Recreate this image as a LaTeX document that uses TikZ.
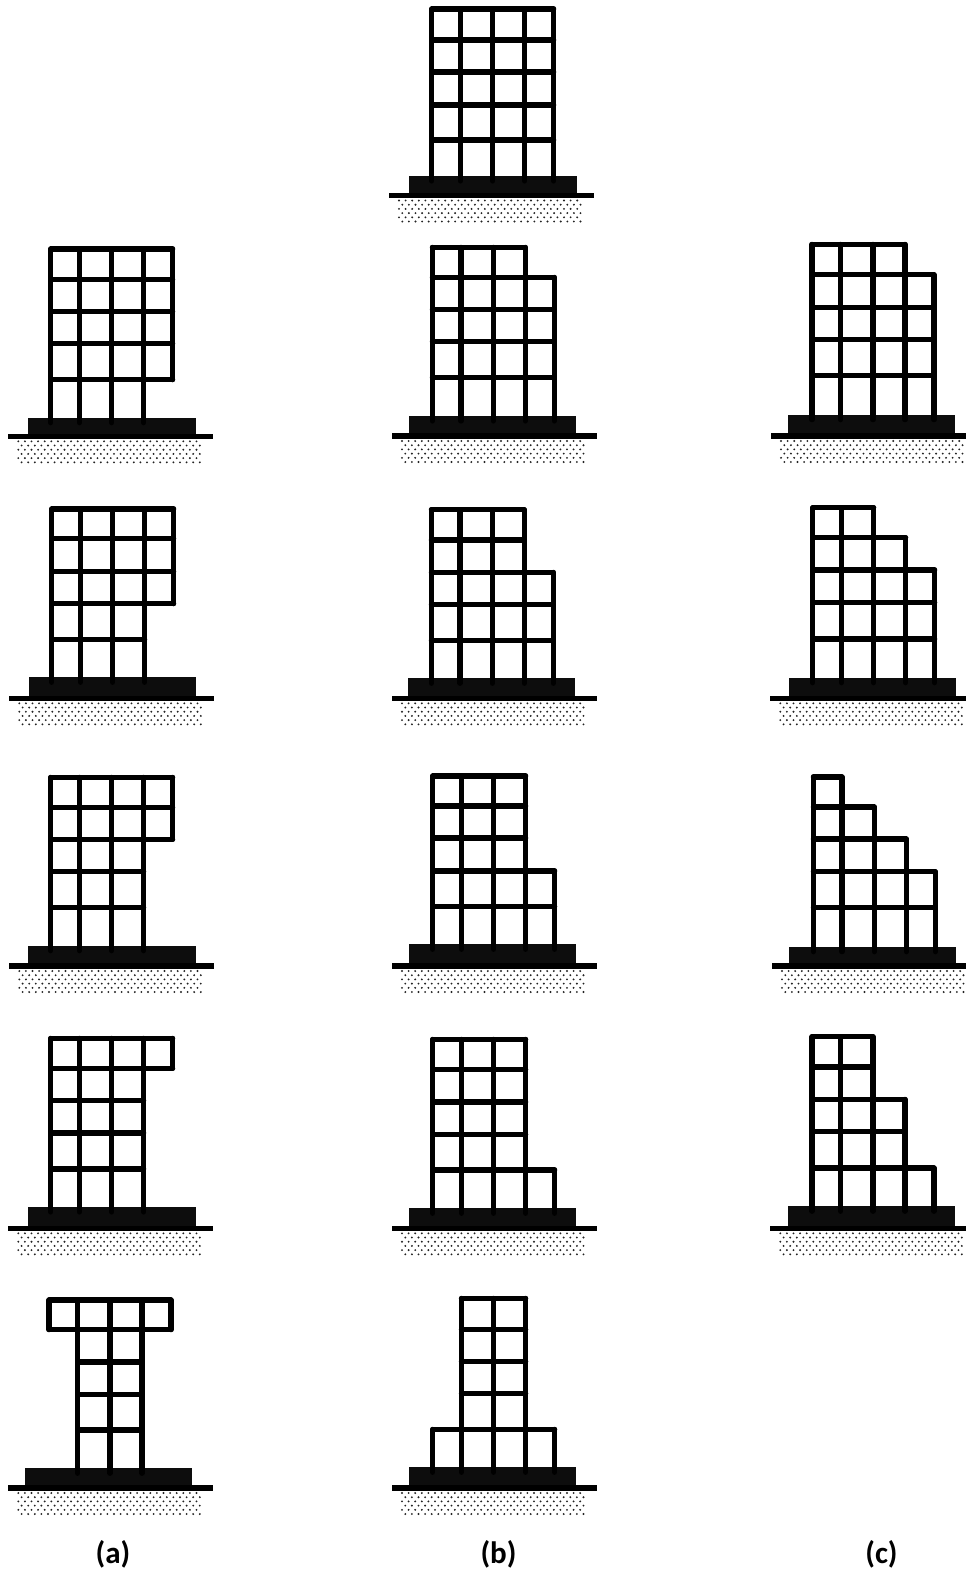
\documentclass[tikz,border=0pt]{standalone}
\usepackage{fontspec}
\setmainfont{Carlito}
\definecolor{basecol}{HTML}{0D0D0D}
\definecolor{dotcol}{HTML}{222222}
\tikzset{
  frame/.style={line width=5.1pt,line cap=round,black},
  footing/.style={fill=basecol,draw=none},
  groundline/.style={fill=black,draw=none},
  soildot/.style={fill=dotcol,draw=none},
  caplabel/.style={font=\bfseries\fontsize{31}{34}\selectfont,text=black,inner sep=0pt}
}
% #1 left column x, #2 footing left x, #3 y0,y1,y2,y3,y4 (row lines), #4 footing top, #5 ground centre,
% #6 columns c/top/bottom, #7 rows r/from/to, #8 ground left x
\newcommand{\bldg}[8]{%
  \begin{scope}
    \foreach \cc/\dx in {0/0,1/28.7,2/61,3/93,4/122}{\coordinate (C\cc) at (#1+\dx,0);}
    \foreach \yy [count=\rr from 0] in {#3}{\coordinate (R\rr) at (0,\yy);}
    \coordinate (R5) at (0,#4+5);
    \foreach \ix in {0,...,27}{\foreach \iy in {0,...,5}{
      \pgfmathsetmacro{\dotx}{#8+10+mod(\iy,2)*3.3+\ix*6.6}
      \pgfmathsetmacro{\doty}{#5+5+\iy*4.2}
      \fill[soildot] (\dotx,\doty) circle[radius=1.05pt];}}
    \fill[footing] (#2,#4) rectangle (#2+167.4,#5);
    \fill[groundline] (#8,#5-2.6) rectangle (#8+204.5,#5+2.6);
    \foreach \cc/\tt/\bb in {#6}{\draw[frame] (C\cc|-R\tt) -- (C\cc|-R\bb);}
    \foreach \rr/\aa/\bb in {#7}{\draw[frame] (C\aa|-R\rr) -- (C\bb|-R\rr);}
  \end{scope}}
\begin{document}
\begin{tikzpicture}[x=1pt,y=-1pt]
\clip (0,0) rectangle (966,1572);
\fill[white] (0,0) rectangle (966,1572);
% top
\bldg{431.7}{409.3}{9,40,72,105,140}{176}{195.5}{0/0/5,1/0/5,2/0/5,3/0/5,4/0/5}{0/0/4,1/0/4,2/0/4,3/0/4,4/0/4}{389}
% column a
\bldg{50.7}{28.3}{249,279.3,311.7,343.7,379.7}{417.7}{436.3}{0/0/5,1/0/5,2/0/5,3/0/5,4/0/4}{0/0/4,1/0/4,2/0/4,3/0/4,4/0/4}{8.3}
\bldg{51.7}{29}{509,538.7,571.3,603.7,639.3}{677.3}{698.3}{0/0/5,1/0/5,2/0/5,3/0/5,4/0/3}{0/0/4,1/0/4,2/0/4,3/0/4,4/0/3}{9.3}
\bldg{50.7}{28.3}{777.3,807.3,839.3,871.7,907.7}{945.7}{966}{0/0/5,1/0/5,2/0/5,3/0/5,4/0/2}{0/0/4,1/0/4,2/0/4,3/0/3,4/0/3}{9.3}
\bldg{50.7}{28.3}{1038.3,1068.3,1100.7,1133,1169}{1207}{1228.3}{0/0/5,1/0/5,2/0/5,3/0/5,4/0/1}{0/0/4,1/0/4,2/0/3,3/0/3,4/0/3}{8.3}
\bldg{49}{25}{1300,1329.7,1362,1394.3,1430}{1468.3}{1488}{0/0/1,1/0/5,2/0/5,3/0/5,4/0/1}{0/0/4,1/0/4,2/1/3,3/1/3,4/1/3}{8.3}
% column b
\bldg{432.3}{408.7}{247.3,277.3,309.3,341.7,377.7}{416}{436}{0/0/5,1/0/5,2/0/5,3/0/5,4/1/5}{0/0/3,1/0/4,2/0/4,3/0/4,4/0/4}{392}
\bldg{431.3}{407.7}{509.7,540,572.3,604.7,640.3}{678.3}{698.3}{0/0/5,1/0/5,2/0/5,3/0/5,4/2/5}{0/0/3,1/0/3,2/0/4,3/0/4,4/0/4}{392}
\bldg{432.7}{409}{776,806,838,871,906.3}{944.3}{966}{0/0/5,1/0/5,2/0/5,3/0/5,4/3/5}{0/0/3,1/0/3,2/0/3,3/0/4,4/0/4}{392}
\bldg{432.7}{409}{1039.3,1069.7,1102,1134.3,1170}{1208.3}{1228.3}{0/0/5,1/0/5,2/0/5,3/0/5,4/4/5}{0/0/3,1/0/3,2/0/3,3/0/3,4/0/4}{392}
\bldg{432.7}{409}{1298.3,1329.3,1361.3,1393.7,1429.3}{1467.3}{1488}{0/4/5,1/0/5,2/0/5,3/0/5,4/4/5}{0/1/3,1/1/3,2/1/3,3/1/3,4/0/4}{392}
% column c
\bldg{812}{788}{244.3,274.7,307.3,339.7,375.7}{414.7}{436}{0/0/5,1/0/5,2/0/5,3/0/5,4/1/5}{0/0/3,1/0/4,2/0/4,3/0/4,4/0/4}{771}
\bldg{812.7}{789}{507.7,537.7,570,602.7,639}{677.7}{698.3}{0/0/5,1/0/5,2/0/5,3/1/5,4/2/5}{0/0/2,1/0/3,2/0/4,3/0/4,4/0/4}{770.3}
\bldg{813.3}{789}{777,807,839,871.7,907.7}{946.7}{966}{0/0/5,1/0/5,2/1/5,3/2/5,4/3/5}{0/0/1,1/0/2,2/0/3,3/0/4,4/0/4}{772}
\bldg{812}{788}{1036.7,1067,1099.3,1131.7,1168}{1206.3}{1228.3}{0/0/5,1/0/5,2/0/5,3/2/5,4/4/5}{0/0/2,1/0/2,2/0/3,3/0/3,4/0/4}{770.3}
% captions
\node[caplabel,anchor=base] (capa) at (113,1563) {(a)};
\node[caplabel,anchor=base] (capb) at (498.5,1563) {(b)};
\node[caplabel,anchor=base] (capc) at (881.5,1563) {(c)};
\end{tikzpicture}
\end{document}
